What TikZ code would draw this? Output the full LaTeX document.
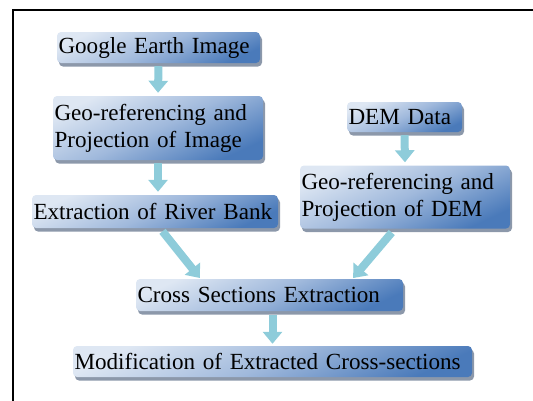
\documentclass[tikz,border=0pt]{standalone}
\usepackage{fontspec}
\setmainfont{Liberation Serif}
\usetikzlibrary{arrows.meta,shadows}
\definecolor{boxlight}{RGB}{222,231,243}
\definecolor{boxmid}{RGB}{160,185,220}
\definecolor{boxdark}{RGB}{74,122,186}
\definecolor{boxshadow}{RGB}{140,152,170}
\definecolor{flowarrow}{RGB}{142,204,218}
\begin{document}
\begin{tikzpicture}[x=1pt,y=-1pt,
  stepbox/.style={rounded corners=4pt,inner xsep=1.5pt,inner ysep=0pt,align=left,
    font=\fontsize{23.1}{27}\selectfont,
    top color=boxlight,bottom color=boxdark,middle color=boxmid,shading angle=25,
    drop shadow={shadow xshift=2pt,shadow yshift=-3.5pt,fill=boxshadow,opacity=1}},
  flow/.style={line width=8pt,draw=flowarrow,-{Triangle[length=12pt,width=19pt]}}]
  \useasboundingbox (0,0) rectangle (533,400);
  % frame
  \draw[line width=1.6pt] (13,405) -- (13,10) -- (540,10);

  % image branch
  \node[stepbox,text width=200pt,minimum height=31pt] (gei) at (158.5,47.5) {Google Earth Image};
  \node[stepbox,text width=207pt,minimum height=64pt] (geoimg) at (158,128) {Geo-referencing and\\Projection of Image};
  \node[stepbox,text width=243pt,minimum height=33pt] (bank) at (155,211.5) {Extraction of River Bank};

  % DEM branch
  \node[stepbox,text width=112pt,minimum height=30pt] (dem) at (404.5,117) {DEM Data};
  \node[stepbox,text width=207pt,minimum height=63pt] (geodem) at (405,197) {Geo-referencing and\\Projection of DEM};

  % merged steps
  \node[stepbox,text width=264pt,minimum height=32pt] (xsec) at (269.5,295) {Cross Sections Extraction};
  \node[stepbox,text width=396pt,minimum height=31pt] (modif) at (272.5,361.5) {Modification of Extracted Cross-sections};

  % connectors
  \draw[flow,shorten <=3pt,shorten >=3pt] (gei.south) -- (geoimg.north);
  \draw[flow,shorten <=3pt,shorten >=3pt] (geoimg.south) -- (geoimg.south |- bank.north);
  \draw[flow,shorten <=3pt,shorten >=3pt] (dem.south) -- (geodem.north);
  \draw[flow,shorten <=4pt,shorten >=1pt] ([xshift=5pt]bank.south) -- ([xshift=-69pt]xsec.north);
  \draw[flow,shorten <=5pt,shorten >=1pt] ([xshift=-10pt]geodem.south) -- ([xshift=83pt]xsec.north);
  \draw[flow,shorten <=4pt,shorten >=2pt] (xsec.south -| modif.north) -- (modif.north);
\end{tikzpicture}
\end{document}
